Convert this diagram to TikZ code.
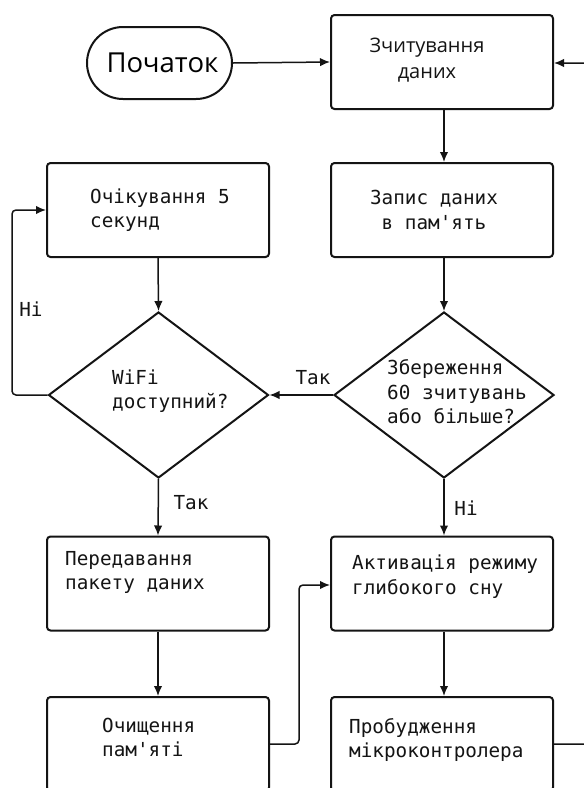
\documentclass[tikz,border=0pt]{standalone}
\usepackage{fontspec}
\newfontfamily\monof{DejaVu Sans Mono}
\newfontfamily\sansf{Open Sans}
\usetikzlibrary{arrows.meta,shapes.geometric}
\definecolor{ink}{HTML}{141414}
\begin{document}
\begin{tikzpicture}[x=1pt,y=-1pt,
  box/.style={draw=ink, line width=2pt, rounded corners=3.5pt,
    minimum width=222pt, minimum height=94pt, inner sep=0pt},
  terminal/.style={draw=ink, line width=2pt, rounded corners=36pt,
    minimum width=145pt, minimum height=72pt, inner sep=0pt,
    font=\sansf\fontsize{27.5}{32}\selectfont},
  decision/.style={draw=ink, line width=2pt, shape=diamond,
    minimum width=220pt, minimum height=166pt, inner sep=0pt},
  mtext/.style={font=\monof\fontsize{19.3}{24.5}\selectfont, align=left,
    inner sep=0pt, anchor=west, text=ink},
  lbl/.style={font=\monof\fontsize{19.3}{24}\selectfont, inner sep=0pt, text=ink},
  flow/.style={draw=ink, line width=1.5pt, -{Latex[length=10pt,width=8.5pt]}},
]
\useasboundingbox (0,0) rectangle (584,788);
\fill[white] (0,0) rectangle (584,788);
\clip (0,0) rectangle (584,788);

% shapes
\node[terminal] (start) at (159.5,63) {\hspace*{6pt}Початок};
\node[box] (read)  at (442,62) {};
\node[box] (wait)  at (158,210) {};
\node[box] (store) at (442,210) {};
\node[decision] (wifi) at (158.5,395) {};
\node[decision] (full) at (444,395) {};
\node[box] (send)  at (158,583.5) {};
\node[box] (sleep) at (442,583.5) {};
\node[box] (clear) at (158,744) {};
\node[box] (wake)  at (442,744) {};

% texts inside the shapes
\node[font=\sansf\fontsize{20}{26}\selectfont, align=center, inner sep=0pt, text=ink]
  (tread) at (427,60) {Зчитування\\даних};
\node[mtext] (twait) at (90,210) {Очікування 5\\секунд};
\node[mtext, anchor=center, align=center] (tstore) at (434,210) {Запис даних\\в пам'ять};
\node[mtext] (twifi) at (112,391) {WiFi\\доступний?};
\node[mtext] (tfull) at (387,392) {Збереження\\60 зчитувань\\або більше?};
\node[mtext] (tsend) at (65,572.5) {Передавання\\пакету даних};
\node[mtext] (tsleep) at (352,576.5) {Активація режиму\\глибокого сну};
\node[mtext] (tclear) at (102,737.5) {Очищення\\пам'яті};
\node[mtext] (twake) at (349,740) {Пробудження\\мікроконтролера};

% connectors
\draw[flow] (start.east) -- (read.west);
\draw[flow] (read.south -| 444,0) -- (store.north -| 444,0);
\draw[flow] (store.south -| 444,0) -- (full.north);
\draw[flow] (wait.south) -- (wifi.north);
\draw[flow] (full.west) -- (wifi.east);
\draw[flow] (full.south) -- (sleep.north -| 444,0);
\draw[flow] (wifi.south) -- (send.north);
\draw[flow] (send.south) -- (clear.north);
\draw[flow] (sleep.south -| 444,0) -- (wake.north -| 444,0);
\draw[flow, rounded corners=4pt] (wifi.west) -- (12,395) -- (12,210) -- (wait.west);
\draw[flow, rounded corners=4pt] (clear.east) -- (299,744) -- (299,585) -- (sleep.west |- 0,585);
\draw[flow, rounded corners=4pt] (wake.east) -- (610,744) -- (610,63) -- (read.east |- 0,63);

% branch labels
\node[lbl] (l1) at (31,309) {Ні};
\node[lbl] (l2) at (313,378) {Так};
\node[lbl] (l3) at (191,503) {Так};
\node[lbl] (l4) at (466,508) {Ні};
\end{tikzpicture}
\end{document}
